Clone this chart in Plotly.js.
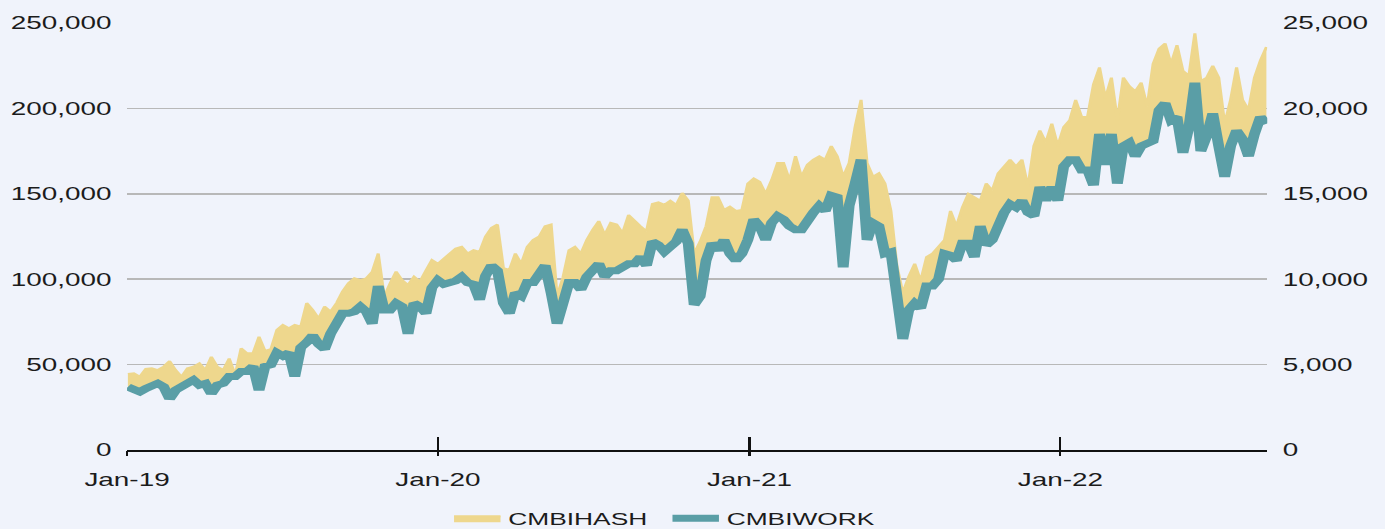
<!DOCTYPE html>
<html><head><meta charset="utf-8">
<script src="https://cdn.plot.ly/plotly-3.0.1.min.js"></script>
<style>
html,body{margin:0;padding:0;background:#f0f3fb;overflow:hidden;}
#wrap{width:1385px;height:529px;overflow:hidden;}
#chart{width:894px;height:529px;transform:scaleX(1.5492);transform-origin:0 0;}
</style></head>
<body><div id="wrap"><div id="chart"></div></div>
<script>
// Weekly readings, first week starting 2019-01-02
const START_DATE = '2019-01-02';
const seriesNames = ['CMBIHASH', 'CMBIWORK'];
const hashValues = [
44500,44900,42900,47500,47800,46800,48800,52000,46800,42900,
47800,48800,50700,46800,54600,48800,46800,53600,43900,59500,
56600,56600,66300,58000,59000,70300,73200,71300,73200,72200,
86000,82000,77000,84000,81000,86000,92700,97600,100500,99500,
100500,104400,115000,89800,97600,104400,99500,96600,101500,98600,
105000,111200,109000,112000,115000,118000,119000,115000,117000,116000,
125000,130000,132000,106400,105400,115000,109000,119000,123000,125000,
131000,132000,90000,101000,117000,119000,115000,123000,129000,134000,
126000,133000,132000,127000,137600,134000,131000,128000,144000,145000,
143500,146000,143500,150500,146000,115000,122000,131000,148000,148000,
140500,142500,140000,140500,156000,159000,157000,150000,158000,168000,
168000,158000,172000,160000,167000,170000,172000,170000,178000,172000,
160000,168000,189000,205000,168000,160000,162000,156000,140000,108000,
92000,101500,109000,99000,113000,115000,119000,123000,140000,131000,
142000,150000,148000,146000,156000,152000,162000,166000,170000,166000,
170000,154000,178000,187000,180000,191000,178000,189000,193000,205000,
195000,195000,214000,224000,206000,218000,193000,218000,213000,210000,
215000,201000,226000,235000,238000,226000,237000,222000,219000,244000,
216000,218000,225000,218000,191000,205000,224000,205000,199000,218000,
228000,236000];
const workValues = [
3700,3500,3400,3600,3700,3900,3700,3000,3500,3700,
3800,4100,3800,3900,3300,3800,3900,4300,4300,4600,
4600,4900,3500,4900,5000,5700,5500,5700,4300,6000,
6300,6700,6200,5900,6800,7400,8000,8000,8100,8400,
8100,7400,9600,8200,8200,8600,8400,6800,8600,8400,
8000,9500,9950,9700,9800,9900,10150,9800,9700,8800,
10200,10800,10500,8600,8000,9200,9000,9800,9800,10350,
10800,9200,7400,8600,9800,9800,9400,10150,10600,10900,
10150,10500,10500,10700,10900,10900,11300,10800,12200,12000,
11600,11900,12200,12900,12100,8500,9000,11100,12100,11700,
12300,11500,11100,11500,12300,13500,13100,12300,13300,13700,
13500,13100,12900,12900,13500,13900,14300,14000,14900,14800,
10700,14300,15600,17000,12300,13300,13100,11500,11600,9200,
6500,8200,8600,8300,9600,9600,10000,11500,11400,11100,
12100,12100,11300,13100,12000,12300,13200,13900,14400,14200,
14600,13900,13700,15400,14600,15400,14600,16600,17000,17000,
16400,16400,15500,18500,16700,18500,15600,17800,18000,17200,
17800,18000,18100,19900,20300,19300,19500,17400,18900,21500,
17500,18400,19700,17800,16000,17800,18700,18200,17200,18500,
19500,19100];

const YELLOW = '#eed78d';
const TEAL = '#5a9ea6';
const BG = '#f0f3fb';

const dates = hashValues.map((_, i) => {
  const d = new Date(START_DATE + 'T00:00:00Z');
  d.setUTCDate(d.getUTCDate() + 7 * i);
  return d.toISOString().slice(0, 10);
});
// WORK expressed on the left scale (right axis is exactly 1/10 of left) — used as fill floor
const workOnLeft = workValues.map(v => v * 10);

const traces = [
  {x: dates, y: workOnLeft, xaxis: 'x', yaxis: 'y', mode: 'lines',
   line: {width: 0, color: 'rgba(0,0,0,0)'}, showlegend: false, hoverinfo: 'skip'},
  {x: dates, y: hashValues, xaxis: 'x', yaxis: 'y', name: seriesNames[0], mode: 'lines',
   line: {color: YELLOW, width: 2}, fill: 'tonexty', fillcolor: YELLOW},
  {x: dates, y: workValues, xaxis: 'x2', yaxis: 'y2', name: seriesNames[1], mode: 'lines',
   line: {color: TEAL, width: 7}}
];

const xRange = ['2019-01-01', '2022-09-01'];
const layout = {
  width: 894, height: 529,
  margin: {l: 82, r: 76, t: 23, b: 79, pad: 0, autoexpand: false},
  paper_bgcolor: BG, plot_bgcolor: BG,
  font: {family: 'Liberation Sans, Arial, sans-serif', size: 18, color: '#1c1c1c'},
  showlegend: true,
  xaxis: {type: 'date', range: xRange, tick0: '2019-01-01', dtick: 'M12', tickformat: '%b-%y',
    ticks: 'inside', ticklen: 13, tickwidth: 1.3, tickcolor: '#111',
    showline: true, linecolor: '#111', linewidth: 2, showgrid: false, zeroline: false,
    ticklabelstandoff: 12, automargin: false},
  xaxis2: {type: 'date', range: xRange, overlaying: 'x', anchor: 'y2', tick0: '2019-01-01', dtick: 'M12',
    ticks: 'outside', ticklen: 5, tickwidth: 1.3, tickcolor: '#111', showticklabels: false,
    showline: false, showgrid: false, zeroline: false},
  yaxis: {range: [0, 250000], dtick: 50000, tickformat: ',d', showgrid: true, gridcolor: '#b8b8b8',
    gridwidth: 1.5, zeroline: false, showline: false, ticks: '', ticklabelstandoff: 9, automargin: false},
  yaxis2: {range: [0, 25000], dtick: 5000, tickformat: ',d', overlaying: 'y', side: 'right', anchor: 'x2',
    showgrid: false, zeroline: false, showline: false, ticks: '', ticklabelstandoff: 9, automargin: false},
  legend: {orientation: 'h', x: 0.28, xanchor: 'left', y: -0.119, yanchor: 'top',
    font: {size: 17, color: '#1c1c1c'}, itemwidth: 30, entrywidth: 96, entrywidthmode: 'pixels',
    bgcolor: 'rgba(0,0,0,0)', traceorder: 'normal'}
};

Plotly.newPlot('chart', traces, layout, {staticPlot: true, displayModeBar: false});
</script>
</body></html>
